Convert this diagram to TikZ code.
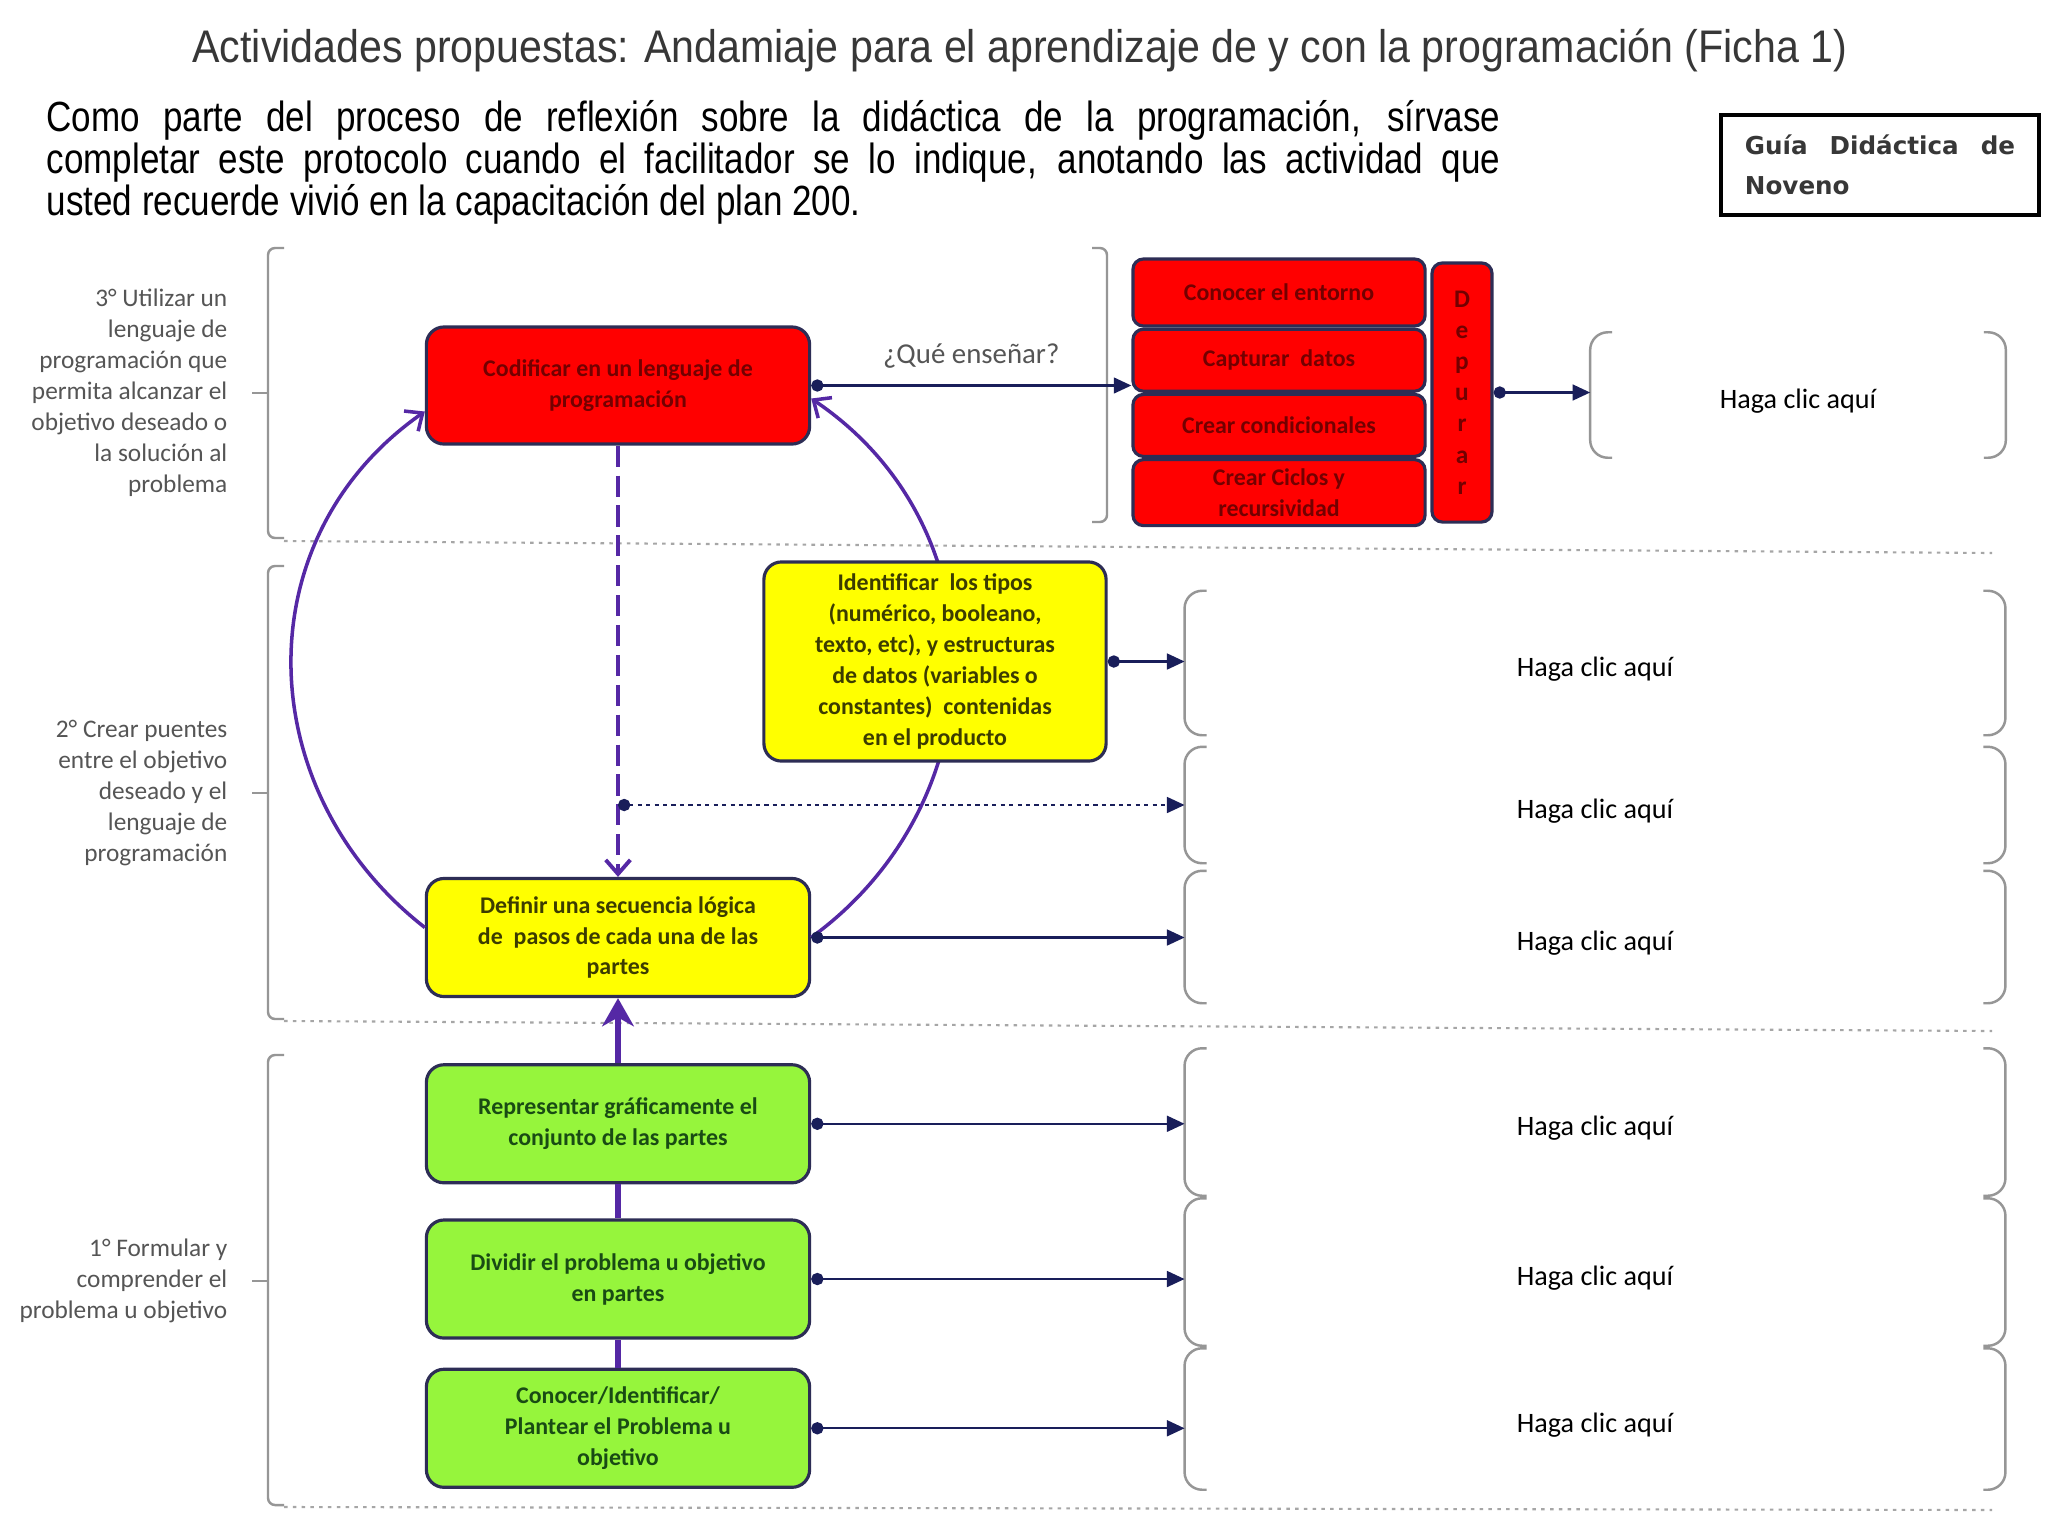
\documentclass[tikz,border=0pt]{standalone}
\usepackage{fontspec}
\setmainfont{Carlito}
\newfontfamily\narrowfont{Liberation Sans}[FakeStretch=0.83]
\newfontfamily\headfont{Liberation Sans}[FakeStretch=0.9]
\newfontfamily\guidefont{DejaVu Sans}
\usetikzlibrary{arrows.meta,positioning}

\definecolor{boxline}{RGB}{45,45,85}
\definecolor{boxred}{RGB}{255,0,0}
\definecolor{boxyellow}{RGB}{255,255,0}
\definecolor{boxgreen}{RGB}{150,245,60}
\definecolor{txtred}{RGB}{115,0,0}
\definecolor{txtyellow}{RGB}{60,60,0}
\definecolor{txtgreen}{RGB}{25,75,20}
\definecolor{linknavy}{RGB}{25,30,90}
\definecolor{loopviolet}{RGB}{85,40,165}
\definecolor{labelgray}{RGB}{85,85,85}
\definecolor{titlegray}{RGB}{55,55,55}
\definecolor{bracketgray}{RGB}{150,150,150}

\begin{document}
\begin{tikzpicture}[x=0.01cm, y=-0.01cm,
    box/.style={draw=boxline, line width=0.9pt, rounded corners=5pt, align=center, inner sep=1pt, font=\bfseries\fontsize{6.8}{8.8}\selectfont},
    stepred/.style={box, fill=boxred, text=txtred, minimum width=3.83cm, minimum height=1.17cm},
    stepyellow/.style={box, fill=boxyellow, text=txtyellow, minimum width=3.83cm, minimum height=1.18cm},
    stepgreen/.style={box, fill=boxgreen, text=txtgreen, minimum width=3.83cm, minimum height=1.18cm},
    stackbox/.style={box, fill=boxred, text=txtred, rounded corners=3pt, minimum width=2.92cm},
    stage/.style={anchor=east, align=right, text=labelgray, inner sep=0pt, font=\fontsize{7.2}{8.8}\selectfont},
    answer/.style={minimum width=8.19cm, text height=7.4pt, text depth=0pt, font=\fontsize{8}{9.6}\selectfont},
    bracket/.style={draw=bracketgray, line width=0.7pt, rounded corners=5pt},
    link/.style={draw=linknavy, line width=0.6pt, {Circle[length=3.5pt]}-{Triangle[length=5pt,width=4.5pt]}},
    spine/.style={draw=loopviolet, line width=1.6pt},
    cycleline/.style={draw=loopviolet, line width=1pt, -{Straight Barb[length=4pt,width=7pt]}},
    divider/.style={draw=gray!70, line width=0.6pt, dash pattern=on 1pt off 1.5pt}
  ]
  \fill[white] (0,0) rectangle (2048,1536);
  \useasboundingbox (0,0) rectangle (2048,1536);

  % header
  \node[text=titlegray, font=\headfont\fontsize{13}{15}\selectfont] (title) at (1020,50) {Actividades propuestas: Andamiaje para el aprendizaje de y con la programación (Ficha 1)};
  \node[anchor=north west, inner sep=0pt, text width=14.53cm, align=justify, font=\narrowfont\fontsize{12}{11.95}\selectfont] (intro) at (46,100) {Como parte del proceso de reflexión sobre la didáctica de la programación, sírvase\linebreak completar este protocolo cuando el facilitador se lo indique, anotando las actividad que\linebreak usted recuerde vivió en la capacitación del plan 200.};
  \node[draw, line width=1.3pt, minimum width=3.18cm, minimum height=1.0cm, text width=2.7cm, align=justify, text=titlegray, font=\guidefont\bfseries\fontsize{7}{11.4}\selectfont] (guide) at (1880,165) {Guía Didáctica de\linebreak Noveno};

  % levels on the left
  \node[stage] (lvl3) at (228,393) {3° Utilizar un\\lenguaje de\\programación que\\permita alcanzar el\\objetivo deseado o\\la solución al\\problema};
  \node[stage] (lvl2) at (228,793) {2° Crear puentes\\entre el objetivo\\deseado y el\\lenguaje de\\programación};
  \node[stage] (lvl1) at (228,1281) {1° Formular y\\comprender el\\problema u objetivo};
  \draw[bracket, rounded corners=2pt] (284,248) -- (268,248) -- (268,538) -- (284,538);
  \draw[bracket, rounded corners=2pt] (284,566) -- (268,566) -- (268,1019) -- (284,1019);
  \draw[bracket, rounded corners=2pt] (284,1055) -- (268,1055) -- (268,1505) -- (284,1505);
  \draw[bracket] (252,393) -- (268,393);
  \draw[bracket] (252,793) -- (268,793);
  \draw[bracket] (252,1281) -- (268,1281);
  \draw[divider] (284,541) -- (1992,553);
  \draw[divider] (284,1021) -- (1992,1031);
  \draw[divider] (284,1507) -- (1992,1510);

  % steps
  \node[stepred] (codificar) at (618,385.5) {Codificar en un lenguaje de\\programación};
  \node[stepyellow] (definir) at (618,937.5) {Definir una secuencia lógica\\de\ \ pasos de cada una de las\\partes};
  \node[stepgreen, below=0.65cm of definir] (representar) {Representar gráficamente el\\conjunto de las partes};
  \node[stepgreen, below=0.34cm of representar] (dividir) {Dividir el problema u objetivo\\en partes};
  \node[stepgreen, below=0.28cm of dividir] (conocer) {Conocer/Identificar/\\Plantear el Problema u\\objetivo};

  % what to teach
  \node[stackbox, minimum height=0.67cm] (entorno) at (1279,292.5) {Conocer el entorno};
  \node[stackbox, minimum height=0.62cm, below=0cm of entorno] (datos) {Capturar\ \ datos};
  \node[stackbox, minimum height=0.62cm, below=0cm of datos] (condicion) {Crear condicionales};
  \node[stackbox, minimum height=0.66cm, below=0cm of condicion] (ciclos) {Crear Ciclos y\\recursividad};
  \node[stackbox, minimum width=0.6cm, minimum height=2.59cm, font=\bfseries\fontsize{7.2}{8.87}\selectfont] (depurar) at (1462,392.5) {D\\e\\p\\u\\r\\a\\r};
  \draw[bracket, rounded corners=2pt] (1092,248) -- (1107,248) -- (1107,522) -- (1092,522);

  % answer fields
  \node[answer, minimum width=4.14cm, minimum height=1.24cm] (ansA) at (1798,395) {Haga clic aquí};
  \node[answer, minimum height=1.43cm] (ans2) at (1595,663) {Haga clic aquí};
  \node[answer, minimum height=1.15cm] (ans3) at (1595,805) {Haga clic aquí};
  \node[answer, minimum height=1.31cm] (ans4) at (1595,937) {Haga clic aquí};
  \node[answer, minimum height=1.46cm] (ans5) at (1595,1122) {Haga clic aquí};
  \node[answer, minimum height=1.46cm] (ans6) at (1595,1272) {Haga clic aquí};
  \node[answer, minimum height=1.40cm] (ans7) at (1595,1419) {Haga clic aquí};
  \foreach \a in {ansA,ans2,ans3,ans4,ans5,ans6,ans7} {
    \draw[bracket] ([xshift=0.22cm]\a.north west) -- (\a.north west) -- (\a.south west) -- ([xshift=0.22cm]\a.south west);
    \draw[bracket] ([xshift=-0.22cm]\a.north east) -- (\a.north east) -- (\a.south east) -- ([xshift=-0.22cm]\a.south east);
  }

  % cycle, right arc runs behind the yellow box
  \draw[cycleline] (definir.east) to[out=36, in=-34, looseness=1.1] ([yshift=-0.13cm]codificar.east);
  \node[stepyellow, minimum width=3.42cm, minimum height=1.99cm] (identificar) at (935,661.5) {Identificar\ \ los tipos\\(numérico, booleano,\\texto, etc), y estructuras\\de datos (variables o\\constantes)\ \ contenidas\\en el producto};
  \draw[cycleline] ([yshift=0.1cm]definir.west) to[out=142, in=215, looseness=1.1] ([yshift=-0.26cm]codificar.west);

  \draw[spine] (conocer) -- (dividir);
  \draw[spine] (dividir) -- (representar);
  \draw[spine, -{Stealth[length=8pt, width=9pt, inset=2.5pt]}] (representar) -- (definir);
  \draw[spine, line width=1.1pt, dash pattern=on 6pt off 2.5pt, -{Straight Barb[length=4pt,width=7pt]}] (codificar) -- (definir);

  % links to the answers
  \coordinate (split) at (codificar.south |- ans3.west);
  \draw[link] (codificar.east) -- node[above=0.04cm, text=labelgray, font=\fontsize{8.2}{10}\selectfont] (ensenar) {¿Qué enseñar?} (codificar.east -| datos.west);
  \draw[link] (depurar.east) -- (depurar.east -| ansA.west);
  \draw[link] (identificar.east) -- (identificar.east -| ans2.west);
  \draw[link, dash pattern=on 1.2pt off 1.2pt] (split) -- (ans3.west);
  \draw[link] (definir.east) -- (definir.east -| ans4.west);
  \draw[link] (representar.east) -- (representar.east -| ans5.west);
  \draw[link] (dividir.east) -- (dividir.east -| ans6.west);
  \draw[link] (conocer.east) -- (conocer.east -| ans7.west);
\end{tikzpicture}
\end{document}
